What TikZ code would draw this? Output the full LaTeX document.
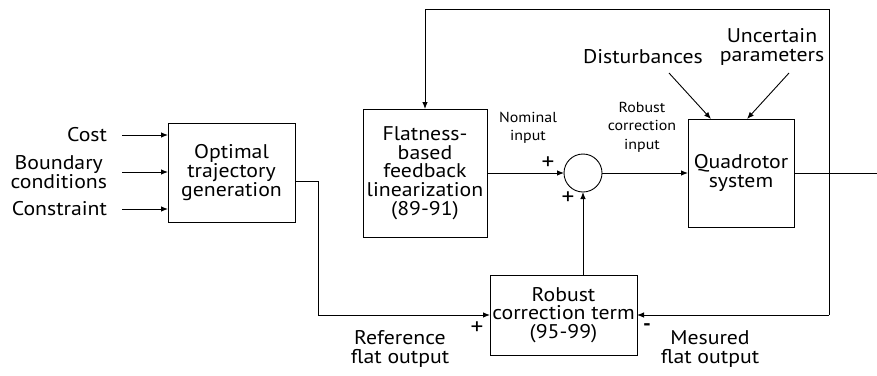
\documentclass[tikz,border=0pt]{standalone}
\usepackage{fontspec}
\setmainfont{PT Sans}[FakeStretch=1.1]
\usetikzlibrary{arrows.meta,calc}
\begin{document}
\begin{tikzpicture}[x=1pt,y=-1pt,
  every node/.style={inner sep=0pt, outer sep=0pt},
  blk/.style={draw, line width=0.9pt, align=center, font=\fontsize{19.8}{18.7}\selectfont},
  lbl/.style={align=center, font=\fontsize{19.8}{18.7}\selectfont},
  sgn/.style={font=\fontsize{23}{23}\selectfont},
  sml/.style={align=center, font=\fontsize{14.5}{18.5}\selectfont},
  ln/.style={line width=0.9pt},
  arr/.style={line width=0.9pt, -{Latex[length=7pt,width=5.5pt]}}]
\useasboundingbox (0,0) rectangle (877,375);
% blocks
\node[blk, minimum width=127pt, minimum height=99pt] (opt) at (231.5,172.5) {Optimal\\trajectory\\generation};
\node[blk, minimum width=124pt, minimum height=128pt] (flat) at (425,173) {Flatness-\\based\\feedback\\linearization\\(89-91)};
\node[blk, minimum width=106pt, minimum height=108pt] (quad) at (741,173) {Quadrotor\\system};
\node[draw, line width=0.9pt, circle, minimum size=38pt] (sum) at (583,173) {};
\node[blk, minimum width=147pt, minimum height=80pt] (rob) at (563.5,315) {Robust\\correction term\\(95-99)};
% inputs
\node[lbl, anchor=east] (cost) at (107,135) {Cost};
\node[lbl, anchor=east] (bound) at (107,172) {Boundary\\conditions};
\node[lbl, anchor=east] (cons) at (107,209) {Constraint};
\draw[arr] ([xshift=15pt]cost.east) -- (cost.east -| opt.west);
\draw[arr] ([xshift=15pt]bound.east) -- (bound.east -| opt.west);
\draw[arr] ([xshift=15pt]cons.east) -- (cons.east -| opt.west);
% labels
\node[lbl] (dist) at (643,57) {Disturbances};
\node[lbl] (unc) at (772,47) {Uncertain\\parameters};
\node[sml] (nom) at (528,128) {Nominal\\input};
\node[sml] (rci) at (642,127) {Robust\\correction\\input};
\node[sgn] (p1) at (548,163) {+};
\node[sgn] (p2) at (568,198) {+};
\node[sgn] (p3) at (477,328) {+};
\node[lbl, font=\fontsize{19.8}{18.7}\selectfont\bfseries] (m1) at (647,327) {-};
\node[lbl] (ref) at (400,349) {Reference\\flat output};
\node[lbl] (mes) at (710,349) {Mesured\\flat output};
% coordinates
\coordinate (dA) at (669,73);
\coordinate (uA) at (789,73);
\coordinate (optout) at (295,181);
\coordinate (optdn) at (318,315);
\coordinate (tapT) at (829,9);
\coordinate (tapB) at (829,315);
\coordinate (outE) at (877,173);
% connectors
\draw[arr] (flat.east) -- (sum.west);
\draw[arr] (sum.east) -- (quad.west);
\draw[arr] (rob.north -| sum.south) -- (sum.south);
\draw[arr] (dA) -- (711,119);
\draw[arr] (uA) -- (747,119);
\draw[ln] (quad.east) -- (outE);
\draw[ln] (optout) -| (optdn);
\draw[arr] (optdn) -- (optdn -| rob.west);
\draw[ln] (tapT) -- (tapB);
\draw[arr] (tapB) -- (tapB -| rob.east);
\draw[arr] (tapT) -| (flat.north);
\end{tikzpicture}
\end{document}
